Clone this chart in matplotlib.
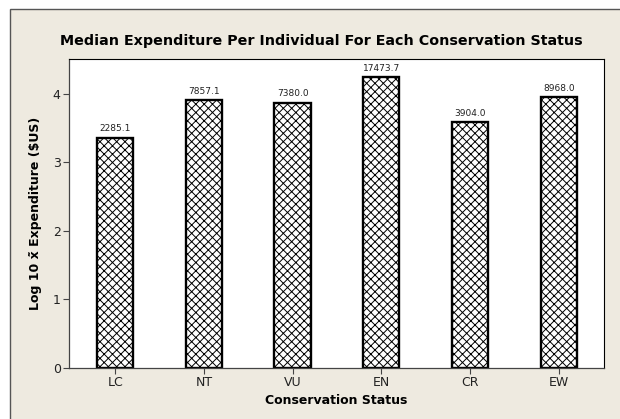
import matplotlib
matplotlib.use("Agg")
import matplotlib.pyplot as plt
from matplotlib.patches import Rectangle

categories = ["LC", "NT", "VU", "EN", "CR", "EW"]
log_values = [3.36, 3.90, 3.87, 4.24, 3.59, 3.95]
bar_labels = ["2285.1", "7857.1", "7380.0", "17473.7", "3904.0", "8968.0"]
y_ticks = [0, 1, 2, 3, 4]

plt.rcParams['font.family'] = ['DejaVu Sans']
plt.rcParams['hatch.linewidth'] = 0.7

fig = plt.figure(figsize=(6.2, 4.19), dpi=100)
fig.patch.set_facecolor("white")

# outer beige panel with frame
bg = Rectangle((10/620, -0.01), 1.0, (419-9)/419 + 0.01, transform=fig.transFigure,
               facecolor="#EEEAE0", edgecolor="#555555", linewidth=1.0, zorder=-5)
fig.patches.append(bg)

ax = fig.add_axes([69/620, (419-368)/419, (604-69)/620, (368-59.3)/419])
ax.set_zorder(1)
ax.set_facecolor("white")

x = list(range(len(categories)))
bars = ax.bar(x, log_values, width=0.41, color="white", edgecolor="black",
              linewidth=1.7, hatch="xxxx", zorder=2)

for xi, v, lab in zip(x, log_values, bar_labels):
    ax.annotate(lab, (xi, v), xytext=(0, 3), textcoords="offset points",
                ha="center", va="bottom", fontsize=6.5, color="#222222")

ax.set_xlim(-0.52, 5.51)
ax.set_ylim(0, 4.5)
ax.set_xticks(x)
ax.set_xticklabels(categories, fontsize=9)
ax.set_yticks(y_ticks)
ax.set_yticklabels([str(t) for t in y_ticks], fontsize=9)

for side in ["top", "right"]:
    ax.spines[side].set_color("black")
    ax.spines[side].set_linewidth(0.8)
for side in ["left", "bottom"]:
    ax.spines[side].set_color("#444444")
    ax.spines[side].set_linewidth(0.9)

ax.tick_params(axis="both", direction="out", length=4, width=0.8, color="#444444",
               labelcolor="#222222", pad=2)

ax.set_xlabel("Conservation Status", fontsize=9, fontweight="bold", labelpad=3)
ax.set_ylabel("Log 10 x\u0303 Expenditure ($US)", fontsize=9, fontweight="bold", labelpad=8)

fig.text(321/620, (419-41)/419, "Median Expenditure Per Individual For Each Conservation Status",
         ha="center", va="center", fontsize=10.3, fontweight="bold")

fig.savefig("out.png", dpi=100)
